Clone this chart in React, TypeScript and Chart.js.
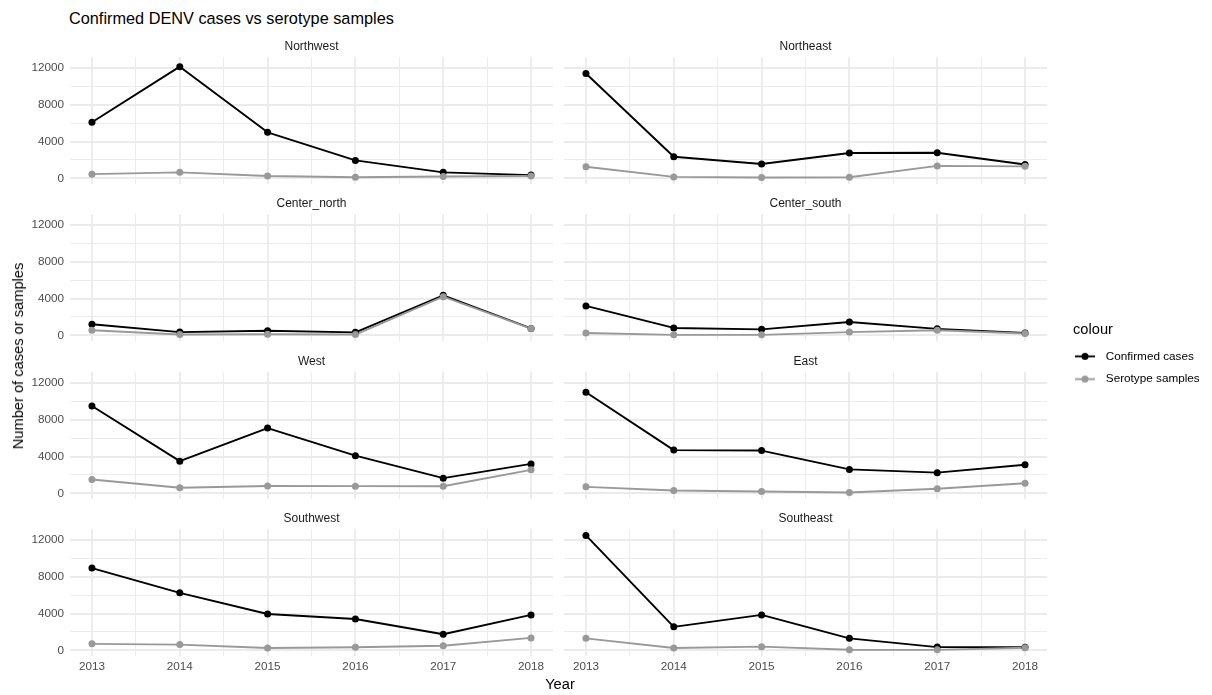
import React, { useEffect, useRef } from 'react';
import { Chart, registerables } from 'chart.js';

Chart.register(...registerables);

const FONT = "'Liberation Sans', Arial, Helvetica, sans-serif";
Chart.defaults.font.family = FONT;

// ---------------- data ----------------
const years = [2013, 2014, 2015, 2016, 2017, 2018];
const regions = ['Northwest', 'Northeast', 'Center_north', 'Center_south', 'West', 'East', 'Southwest', 'Southeast'];
const seriesLabels = ['Confirmed cases', 'Serotype samples'];

const confirmedNorthwest = [6100, 12150, 5000, 1950, 650, 350];
const serotypeNorthwest = [450, 650, 250, 120, 200, 250];
const confirmedNortheast = [11400, 2350, 1550, 2750, 2780, 1500];
const serotypeNortheast = [1250, 150, 80, 110, 1350, 1300];
const confirmedCenterNorth = [1200, 350, 500, 320, 4350, 750];
const serotypeCenterNorth = [550, 80, 120, 80, 4200, 730];
const confirmedCenterSouth = [3200, 800, 650, 1450, 700, 250];
const serotypeCenterSouth = [250, 50, 50, 350, 550, 200];
const confirmedWest = [9500, 3500, 7100, 4100, 1650, 3200];
const serotypeWest = [1500, 600, 800, 780, 770, 2550];
const confirmedEast = [11000, 4700, 4650, 2600, 2250, 3100];
const serotypeEast = [700, 300, 200, 80, 500, 1100];
const confirmedSouthwest = [8950, 6250, 3950, 3400, 1750, 3850];
const serotypeSouthwest = [700, 620, 250, 330, 500, 1350];
const confirmedSoutheast = [12500, 2550, 3850, 1300, 350, 330];
const serotypeSoutheast = [1300, 250, 400, 60, 50, 280];

const confirmedByRegion = [
  confirmedNorthwest, confirmedNortheast, confirmedCenterNorth, confirmedCenterSouth,
  confirmedWest, confirmedEast, confirmedSouthwest, confirmedSoutheast,
];
const serotypeByRegion = [
  serotypeNorthwest, serotypeNortheast, serotypeCenterNorth, serotypeCenterSouth,
  serotypeWest, serotypeEast, serotypeSouthwest, serotypeSoutheast,
];

const yGridValues = [0, 2000, 4000, 6000, 8000, 10000, 12000];
const xGridValues = [2013, 2013.5, 2014, 2014.5, 2015, 2015.5, 2016, 2016.5, 2017, 2017.5, 2018];

// ---------------- style / layout ----------------
const COLORS = ['#000000', '#999999'];
const GRID = '#EBEBEB';
const Y_MIN = -620;
const Y_MAX = 13200;
const X_MIN = 2012.75;
const X_MAX = 2018.25;

const PANEL_W = 487;
const PANEL_H = 127;
const STRIP_H = 17;
const AXIS_H = 24;
const COL_LEFT = [70, 564];
const COL_AXIS_W = [70, 4];
const ROW_TOP = [57, 214, 372, 529];

function Panel({ index }: { index: number }) {
  const ref = useRef<HTMLCanvasElement | null>(null);
  const col = index % 2;
  const row = Math.floor(index / 2);
  const isLeft = col === 0;
  const isBottom = row === 3;
  const axisW = COL_AXIS_W[col];
  const left = COL_LEFT[col] - axisW;
  const top = ROW_TOP[row] - STRIP_H;
  const width = PANEL_W + axisW;
  const height = STRIP_H + PANEL_H + AXIS_H;

  useEffect(() => {
    if (!ref.current) return;
    const conf = confirmedByRegion[index].map((v, i) => ({ x: years[i], y: v }));
    const sero = serotypeByRegion[index].map((v, i) => ({ x: years[i], y: v }));
    const chart = new Chart(ref.current, {
      type: 'line',
      data: {
        datasets: [
          { label: seriesLabels[0], data: conf, borderColor: COLORS[0], borderWidth: 1.9, pointRadius: 0, borderJoinStyle: 'round', order: 3 },
          { label: seriesLabels[1], data: sero, borderColor: COLORS[1], borderWidth: 1.9, pointRadius: 0, borderJoinStyle: 'round', order: 2 },
          { label: seriesLabels[0], data: conf, showLine: false, pointRadius: 3.5, pointBackgroundColor: COLORS[0], pointBorderWidth: 0, order: 1 },
          { label: seriesLabels[1], data: sero, showLine: false, pointRadius: 3.5, pointBackgroundColor: COLORS[1], pointBorderWidth: 0, order: 0 },
        ],
      },
      options: {
        responsive: false,
        animation: false,
        devicePixelRatio: 1,
        layout: { padding: 0 },
        events: [],
        plugins: {
          legend: { display: false },
          tooltip: { enabled: false },
          title: {
            display: true,
            text: regions[index],
            fullSize: false,
            color: '#1A1A1A',
            font: { size: 12, weight: 'normal', lineHeight: '14px' },
            padding: { top: 0, bottom: 3 },
          },
        },
        scales: {
          x: {
            type: 'linear',
            min: X_MIN,
            max: X_MAX,
            afterBuildTicks: (s: any) => { s.ticks = xGridValues.map((v) => ({ value: v })); },
            afterFit: (s: any) => { s.height = AXIS_H; },
            border: { display: false },
            grid: {
              color: GRID,
              drawTicks: false,
              lineWidth: (c: any) => (c.tick && Number.isInteger(c.tick.value) ? 1.9 : 0.95),
            },
            ticks: {
              display: isBottom,
              autoSkip: false,
              maxRotation: 0,
              padding: 4,
              color: '#4D4D4D',
              font: { size: 11.73 },
              callback: (v: any) => (Number.isInteger(v) ? String(v) : ''),
            },
          },
          y: {
            type: 'linear',
            min: Y_MIN,
            max: Y_MAX,
            afterBuildTicks: (s: any) => { s.ticks = yGridValues.map((v) => ({ value: v })); },
            afterFit: (s: any) => { s.width = axisW; },
            border: { display: false },
            grid: {
              color: GRID,
              drawTicks: false,
              lineWidth: (c: any) => (c.tick && c.tick.value % 4000 === 0 ? 1.9 : 0.95),
            },
            ticks: {
              display: isLeft,
              autoSkip: false,
              padding: 6,
              color: '#4D4D4D',
              font: { size: 11.73 },
              callback: (v: any) => (v % 4000 === 0 ? String(v) : ''),
            },
          },
        },
      } as any,
    });
    return () => chart.destroy();
  }, [index]);

  return (
    <canvas
      ref={ref}
      width={width}
      height={height}
      style={{ position: 'absolute', left, top, width, height }}
    />
  );
}

function makeKey(color: string) {
  const c = document.createElement('canvas');
  c.width = 34;
  c.height = 9;
  const g = c.getContext('2d')!;
  g.strokeStyle = color;
  g.lineWidth = 1.9;
  g.beginPath();
  g.moveTo(0, 4.5);
  g.lineTo(20, 4.5);
  g.stroke();
  g.fillStyle = color;
  g.beginPath();
  g.arc(10, 4.5, 3.5, 0, Math.PI * 2);
  g.fill();
  return c;
}

function LegendChart() {
  const ref = useRef<HTMLCanvasElement | null>(null);
  useEffect(() => {
    if (!ref.current) return;
    const keys = COLORS.map(makeKey);
    const chart = new Chart(ref.current, {
      type: 'line',
      data: {
        datasets: seriesLabels.map((l, i) => ({ label: l, data: [], borderColor: COLORS[i] })),
      },
      options: {
        responsive: false,
        animation: false,
        devicePixelRatio: 1,
        events: [],
        layout: { padding: 0 },
        scales: { x: { display: false }, y: { display: false } },
        plugins: {
          tooltip: { enabled: false },
          legend: {
            display: true,
            position: 'left',
            align: 'start',
            title: {
              display: true,
              text: 'colour',
              position: 'start',
              color: '#000000',
              font: { size: 14.67, lineHeight: '16px' },
              padding: { top: 0, bottom: 0.5 },
            },
            labels: {
              usePointStyle: true,
              pointStyleWidth: 16,
              padding: 11,
              color: '#1A1A1A',
              font: { size: 11.73 },
              generateLabels: () =>
                seriesLabels.map((l, i) => ({
                  text: l,
                  pointStyle: keys[i],
                  fillStyle: COLORS[i],
                  strokeStyle: COLORS[i],
                  lineWidth: 0,
                  hidden: false,
                  datasetIndex: i,
                })),
            },
          },
        },
      } as any,
    });
    return () => chart.destroy();
  }, []);
  return (
    <canvas
      ref={ref}
      width={340}
      height={110}
      style={{ position: 'absolute', left: 1073, top: 323, width: 340, height: 110 }}
    />
  );
}

export default function App() {
  useEffect(() => {
    document.body.style.margin = '0';
  }, []);
  return (
    <div
      style={{
        position: 'absolute',
        left: 0,
        top: 0,
        width: 1212,
        height: 695,
        background: '#ffffff',
        fontFamily: FONT,
        overflow: 'hidden',
      }}
    >
      <div
        style={{
          position: 'absolute',
          left: 69,
          top: 8,
          fontSize: 16.3,
          lineHeight: '20px',
          color: '#000000',
          whiteSpace: 'nowrap',
        }}
      >
        Confirmed DENV cases vs serotype samples
      </div>
      {regions.map((_, i) => (
        <Panel key={i} index={i} />
      ))}
      <div
        style={{
          position: 'absolute',
          left: 560,
          top: 684,
          transform: 'translate(-50%, -50%)',
          fontSize: 14.67,
          lineHeight: '18px',
          color: '#000000',
          whiteSpace: 'nowrap',
        }}
      >
        Year
      </div>
      <div
        style={{
          position: 'absolute',
          left: 18,
          top: 356,
          transform: 'translate(-50%, -50%) rotate(-90deg)',
          fontSize: 14.67,
          lineHeight: '18px',
          color: '#000000',
          whiteSpace: 'nowrap',
        }}
      >
        Number of cases or samples
      </div>
      <LegendChart />
    </div>
  );
}
